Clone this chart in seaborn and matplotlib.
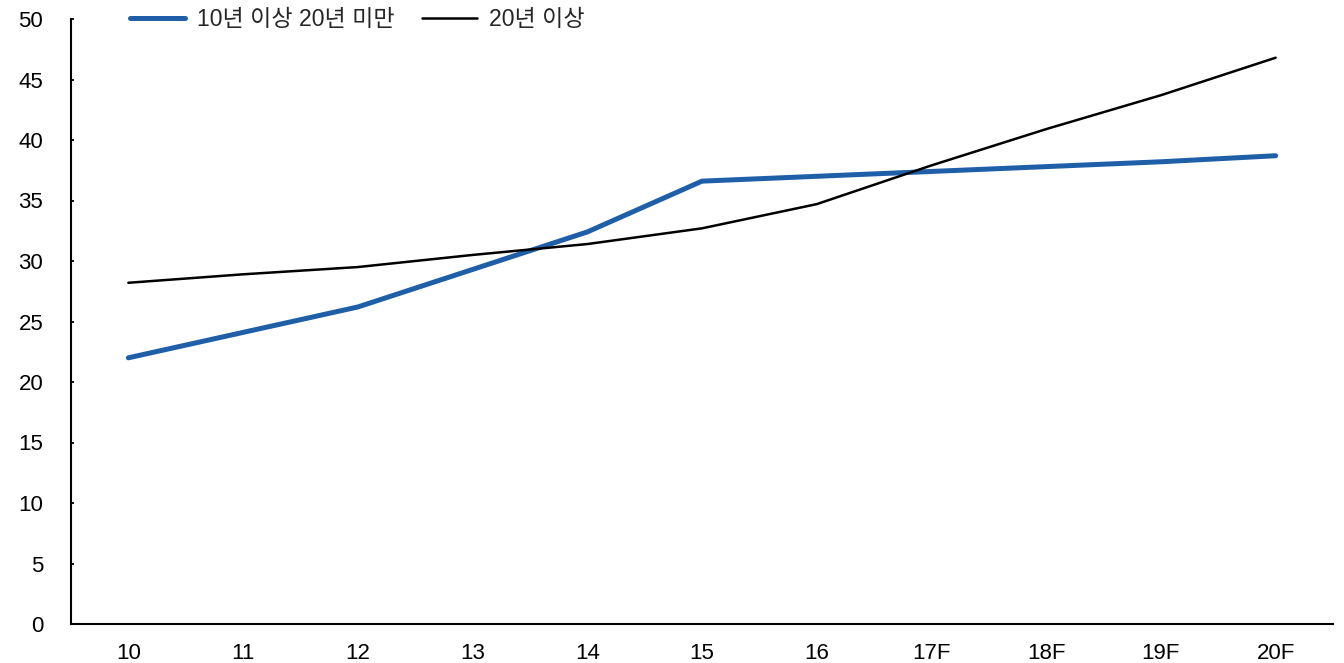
import numpy as np
import pandas as pd
import matplotlib
matplotlib.use("Agg")
import matplotlib.pyplot as plt
from matplotlib.ticker import FixedLocator, NullFormatter, FixedFormatter
from matplotlib.lines import Line2D
import seaborn as sns

years = ["10", "11", "12", "13", "14", "15", "16", "17F", "18F", "19F", "20F"]
series_names = ["10년 이상 20년 미만", "20년 이상"]
mid_values = [22.0, 24.1, 26.2, 29.3, 32.4, 36.6, 37.0, 37.4, 37.8, 38.2, 38.7]
long_values = [28.2, 28.9, 29.5, 30.5, 31.4, 32.7, 34.7, 37.9, 40.9, 43.7, 46.8]
y_ticks = [0, 5, 10, 15, 20, 25, 30, 35, 40, 45, 50]

sns.set_theme(style="white")
plt.rcParams["font.family"] = ["Liberation Sans", "Noto Sans CJK KR", "DejaVu Sans"]

pos = np.arange(len(years))
df = pd.DataFrame({
    "pos": np.concatenate([pos, pos]),
    "value": mid_values + long_values,
    "series": [series_names[0]] * len(years) + [series_names[1]] * len(years),
})

fig = plt.figure(figsize=(13.44, 6.63), dpi=100)
ax = fig.add_axes([71 / 1344, 1 - 624 / 663, (1333 - 71) / 1344, (624 - 19) / 663])

sns.lineplot(data=df, x="pos", y="value", hue="series", size="series",
             palette={series_names[0]: "#1F5FA8", series_names[1]: "#000000"},
             sizes={series_names[0]: 3.6, series_names[1]: 1.8},
             ax=ax, legend=False)
ax.lines[0].set_solid_capstyle("round")

ax.set_xlim(-0.5, len(years) - 0.5)
ax.set_ylim(0, 50)
ax.set_xlabel("")
ax.set_ylabel("")

# category boundaries as major ticks (no labels), centres as minor ticks with labels
ax.xaxis.set_major_locator(FixedLocator(np.arange(len(years) + 1) - 0.5))
ax.xaxis.set_major_formatter(NullFormatter())
ax.xaxis.set_minor_locator(FixedLocator(pos))
ax.xaxis.set_minor_formatter(FixedFormatter(years))
ax.tick_params(axis="x", which="major", direction="in", length=4.5, width=1.3, color="black")
ax.tick_params(axis="x", which="minor", length=0, pad=13.5, labelsize=16, labelcolor="black")

ax.set_yticks(y_ticks)
ax.set_yticklabels([str(v) for v in y_ticks])
ax.tick_params(axis="y", direction="in", length=2.5, width=1.3, color="black",
               pad=20, labelsize=16, labelcolor="black", left=True)

for s in ["top", "right"]:
    ax.spines[s].set_visible(False)
for s in ["left", "bottom"]:
    ax.spines[s].set_color("black")
    ax.spines[s].set_linewidth(1.5)
ax.grid(False)

handles = [Line2D([], [], color="#1F5FA8", lw=3.6, solid_capstyle="round"),
           Line2D([], [], color="#000000", lw=1.8)]
fig.legend(handles, series_names, loc="center left",
           bbox_to_anchor=(130 / 1344, 1 - 20 / 663), ncol=2, frameon=False,
           borderpad=0, borderaxespad=0, handlelength=2.4, handletextpad=0.5,
           columnspacing=1.2, fontsize=16.6)

fig.savefig("out.png", dpi=100)
